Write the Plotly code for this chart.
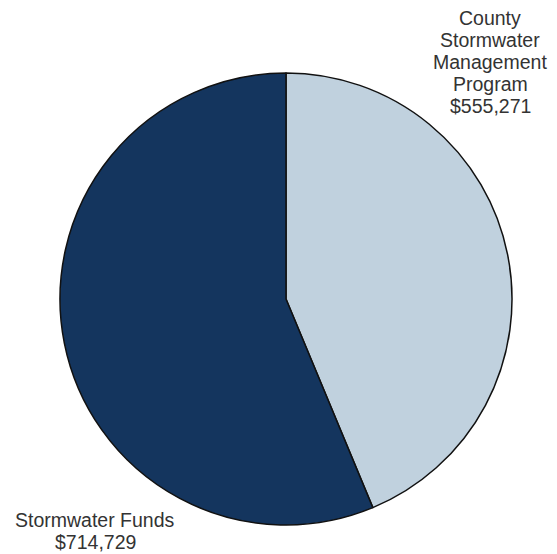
import plotly.graph_objects as go

labels = ["County Stormwater Management Program", "Stormwater Funds"]
values = [555271, 714729]
colors = ["#c0d1de", "#14355e"]
county_lines = ["County", "Stormwater", "Management", "Program", "$555,271"]
funds_lines = ["Stormwater Funds", "$714,729"]

# page body has an 8px margin; work in figure coordinates
OFF = 8
W, H = 557 - OFF, 554 - OFF
cx, cy, r = 286 - OFF, 299 - OFF, 226

fig = go.Figure(go.Pie(
    labels=labels, values=values, sort=False, direction="clockwise", rotation=0,
    marker=dict(colors=colors, line=dict(color="#111111", width=1.5)),
    textinfo="none", hoverinfo="label+value", showlegend=False,
    domain=dict(x=[(cx - r) / W, (cx + r) / W], y=[(H - cy - r) / H, (H - cy + r) / H]),
))

font = dict(family="Arial, Liberation Sans", size=19.5, color="#333333")
for i, t in enumerate(county_lines):
    fig.add_annotation(x=(490 - OFF) / W, y=1 - (18 + 22 * i - OFF) / H, xref="paper", yref="paper",
                       text=t, showarrow=False, xanchor="center", yanchor="middle", font=font)
for i, t in enumerate(funds_lines):
    fig.add_annotation(x=(95 - OFF) / W, y=1 - (520 + 22 * i - OFF) / H, xref="paper", yref="paper",
                       text=t, showarrow=False, xanchor="center", yanchor="middle", font=font)

fig.update_layout(width=W, height=H, margin=dict(l=0, r=0, t=0, b=0),
                  paper_bgcolor="white", plot_bgcolor="white")
fig.write_html("out.html")
